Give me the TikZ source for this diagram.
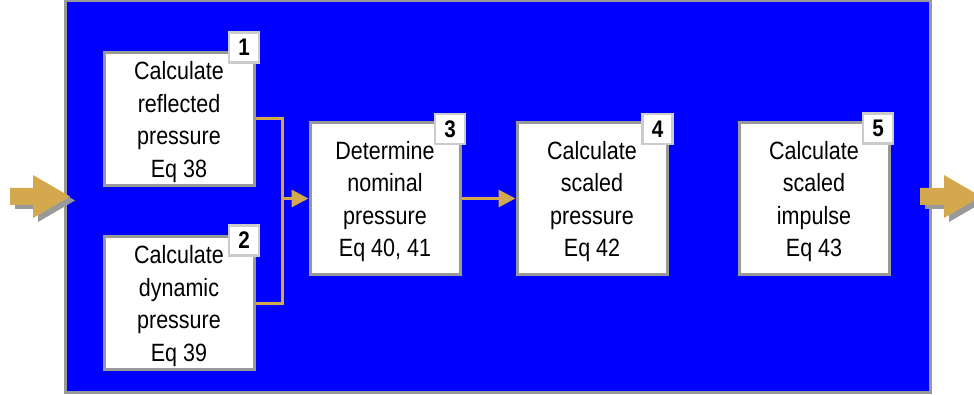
\documentclass[tikz,border=0pt]{standalone}
\usepackage{fontspec}
\setmainfont{Liberation Sans}[FakeStretch=0.86]
\usetikzlibrary{arrows.meta}
\definecolor{gold}{HTML}{D4A94E}
\definecolor{bgblue}{HTML}{0000FF}
\definecolor{boxgray}{HTML}{999999}
\definecolor{numgray}{HTML}{CCCCCC}
\definecolor{shadowgray}{HTML}{999999}
\newcommand{\topstrut}{\rule{0pt}{24.5pt}}
\tikzset{
  stepbox/.style={draw=boxgray, line width=3pt, fill=white, inner sep=0pt,
    align=center, font=\fontsize{25}{32.5}\selectfont, text=black},
  numbox/.style={draw=numgray, line width=2.5pt, fill=white, inner sep=0pt,
    minimum width=30pt, minimum height=30pt, font=\fontsize{24}{24}\selectfont\bfseries},
  conn/.style={draw=gold, line width=3pt},
  tip/.style={-{Triangle[length=17pt,width=17pt]}},
  bigarrow/.style={fill=gold},
  bigshadow/.style={fill=shadowgray},
}
\begin{document}
\begin{tikzpicture}[x=1pt,y=-1pt]
\useasboundingbox (0,0) rectangle (974,395);
\clip (0,0) rectangle (974,395);
% background frame
\draw[draw=boxgray, line width=3pt, fill=bgblue] (65,1) rectangle (930,392);

% boxes
\node[stepbox, minimum width=150pt, minimum height=133pt] (b1) at (179,119)
  {\topstrut Calculate\\reflected\\pressure\\Eq 38};
\node[stepbox, minimum width=150pt, minimum height=133pt] (b2) at (179,303)
  {\topstrut Calculate\\dynamic\\pressure\\Eq 39};
\node[stepbox, minimum width=150pt, minimum height=152pt] (b3) at (385,198.5)
  {\topstrut Determine\\nominal\\pressure\\Eq 40, 41};
\node[stepbox, minimum width=150pt, minimum height=152pt] (b4) at (592,198.5)
  {\topstrut Calculate\\scaled\\pressure\\Eq 42};
\node[stepbox, minimum width=150pt, minimum height=152pt] (b5) at (814,198.5)
  {\topstrut Calculate\\scaled\\impulse\\Eq 43};

% number tags
\node[numbox] (n1) at (244,47.5) {1};
\node[numbox] (n2) at (244,240.5) {2};
\node[numbox] (n3) at (450,129) {3};
\node[numbox] (n4) at (657.5,129) {4};
\node[numbox] (n5) at (878,128.5) {5};

% connectors
\coordinate (j) at (282,198.5);
\draw[conn] (b1.east) -| (j);
\draw[conn] (b2.east) -| (j);
\draw[conn, tip] (j) -- (b3.west);
\draw[conn, tip] (b3.east) -- (b4.west);

% input arrow
\fill[bigshadow] (15,192) -- (38,192) -- (38,179) -- (75,200.5) -- (38,222) -- (38,209) -- (15,209) -- cycle;
\fill[bigarrow] (10,188) -- (33,188) -- (33,175) -- (70,196.5) -- (33,218) -- (33,205) -- (10,205) -- cycle;
% output arrow
\fill[bigshadow] (925,192) -- (949,192) -- (949,179) -- (986,200.5) -- (949,222) -- (949,209) -- (925,209) -- cycle;
\fill[bigarrow] (920,188) -- (944,188) -- (944,175) -- (981,196.5) -- (944,218) -- (944,205) -- (920,205) -- cycle;
\end{tikzpicture}
\end{document}
